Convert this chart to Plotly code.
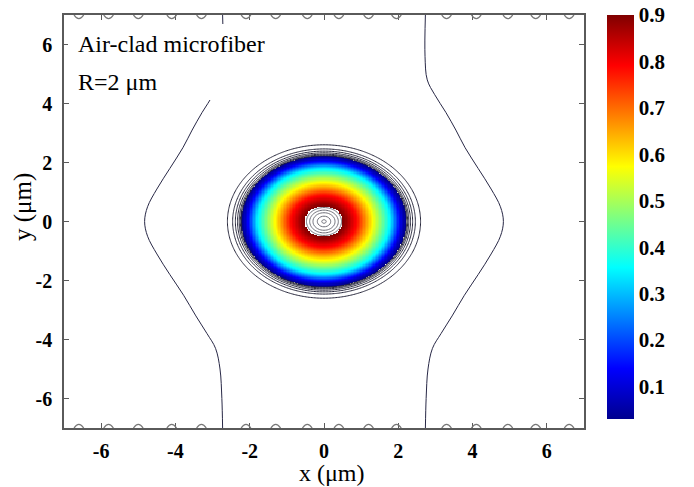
import numpy as np
import plotly.graph_objects as go

# ---- data ----
# radial intensity profile of the guided mode (normalised), radius in um
radius_um = [0.0, 0.3, 0.6, 0.9, 1.2, 1.5, 1.8, 2.0, 2.1, 2.2, 2.25, 2.3, 2.4, 2.5, 2.7, 3.0, 4.0, 7.5]
intensity = [1.0, 0.95, 0.88, 0.78, 0.63, 0.49, 0.34, 0.17, 0.09, 0.035, 0.026, 0.02, 0.013, 0.008, 0.004, 0.002, 0.0005, 0.0]

# far-field contour (right branch; left branch is its mirror), in um
outer_y = [7.0, 5.6, 4.8, 4.3, 3.7, 3.1, 2.5, 1.8, 1.1, 0.5, 0.0, -0.5, -1.1, -1.8, -2.5, -3.2, -3.8, -4.3, -5.0, -6.0, -7.0]
outer_x = [2.73, 2.72, 2.78, 2.98, 3.28, 3.55, 3.8, 4.15, 4.5, 4.75, 4.83, 4.75, 4.5, 4.15, 3.78, 3.45, 3.15, 2.92, 2.8, 2.75, 2.73]

# small contour fragments touching the top / bottom edges (x in um)
edge_x = [-6.6, -5.8, -5.0, -4.1, -3.3, -2.1, -1.3, -0.45, 0.4, 1.2, 1.95, 3.3, 4.1, 4.95, 5.7, 6.6]

cbar_ticks = [0.1, 0.2, 0.3, 0.4, 0.5, 0.6, 0.7, 0.8, 0.9]
x_ticks = [-6, -4, -2, 0, 2, 4, 6]
y_ticks = [-6, -4, -2, 0, 2, 4, 6]
zmin, zmax = 0.03, 0.9

# ---- build grid from the profile ----
g = np.linspace(-7, 7, 351)
X, Y = np.meshgrid(g, g)
R = np.sqrt(X**2 + Y**2)
Z = np.interp(R, radius_um, intensity)
Zfill = np.where((Z > zmax) | (Z < zmin), np.nan, Z)

jet = [[0.0, "rgb(0,0,143)"], [0.125, "rgb(0,0,255)"], [0.375, "rgb(0,255,255)"],
       [0.625, "rgb(255,255,0)"], [0.875, "rgb(255,0,0)"], [1.0, "rgb(128,0,0)"]]

serif = "Liberation Serif"
W, H = 694, 487
L, Rm, T, B = 64, 110, 15, 59
PW, PH = W - L - Rm, H - T - B


def px(xp):
    return (xp - L) / PW


def py(yp):
    return (H - B - yp) / PH


fig = go.Figure()
fig.add_trace(go.Heatmap(
    x=g, y=g, z=Zfill, colorscale=jet, zmin=zmin, zmax=zmax,
    hoverinfo="skip",
    colorbar=dict(
        x=px(607), xanchor="left", xpad=0,
        y=1, yanchor="top", ypad=0,
        lenmode="pixels", len=404, thickness=27,
        outlinewidth=0, tickvals=cbar_ticks,
        ticktext=["<b>%.1f</b>" % v for v in cbar_ticks], ticks="",
        tickfont=dict(family=serif, size=21, color="black"),
    ),
))
# centre contour lines (above the colour range)
fig.add_trace(go.Contour(
    x=g, y=g, z=Z, showscale=False, hoverinfo="skip",
    contours=dict(coloring="none", start=0.91, end=0.99, size=0.02),
    line=dict(color="rgb(110,110,120)", width=1),
))
# edge contour lines (below the colour range)
fig.add_trace(go.Contour(
    x=g, y=g, z=Z, showscale=False, hoverinfo="skip",
    contours=dict(coloring="none", start=0.006, end=0.03, size=0.004),
    line=dict(color="rgb(40,40,60)", width=1),
))
# far field contour branches
fig.add_trace(go.Scatter(x=outer_x, y=outer_y, mode="lines",
                         line=dict(color="rgb(40,40,70)", width=1, shape="spline"),
                         hoverinfo="skip", showlegend=False))
fig.add_trace(go.Scatter(x=[-v for v in outer_x], y=outer_y, mode="lines",
                         line=dict(color="rgb(40,40,70)", width=1, shape="spline"),
                         hoverinfo="skip", showlegend=False))
# edge fragments: small bumps on the top and bottom frame
for ex in edge_x:
    fig.add_shape(type="path", xref="x", yref="y",
                  path="M %.3f,7 Q %.3f,6.75 %.3f,7" % (ex - 0.13, ex, ex + 0.13),
                  fillcolor="rgba(0,0,0,0)",
                  line=dict(color="rgb(120,120,120)", width=1.3), layer="above")
    fig.add_shape(type="path", xref="x", yref="y",
                  path="M %.3f,-7 Q %.3f,-6.75 %.3f,-7" % (ex - 0.13, ex, ex + 0.13),
                  fillcolor="rgba(0,0,0,0)",
                  line=dict(color="rgb(120,120,120)", width=1.3), layer="above")

axis_common = dict(
    range=[-7, 7], showgrid=False, zeroline=False, automargin=False,
    ticks="inside", ticklen=5, tickcolor="rgb(90,90,90)",
    showline=True, linecolor="rgb(90,90,90)", linewidth=1.5, mirror="ticks",
    tickfont=dict(family=serif, size=20, color="black"),
)
fig.update_xaxes(**axis_common, tickvals=x_ticks, ticktext=["<b>%d</b>" % v for v in x_ticks],
                 ticklabelstandoff=4)
fig.update_yaxes(**axis_common, tickvals=y_ticks, ticktext=["<b>%d</b>" % v for v in y_ticks],
                 ticklabelstandoff=6)

# axis titles
fig.add_annotation(text="x (μm)", xref="paper", yref="paper", x=px(332), y=py(473),
                   xanchor="center", yanchor="middle", showarrow=False,
                   font=dict(family=serif, size=24, color="black"))
fig.add_annotation(text="y (μm)", xref="paper", yref="paper", x=px(23), y=py(207),
                   xanchor="center", yanchor="middle", showarrow=False, textangle=-90,
                   font=dict(family=serif, size=25, color="black"))

# label box
fig.add_shape(type="rect", xref="paper", yref="paper",
              x0=px(68), x1=px(285), y0=py(100), y1=py(24),
              fillcolor="white", line=dict(width=0), layer="above")
fig.add_annotation(text="Air-clad microfiber", xref="paper", yref="paper",
                   x=px(76), y=py(44), xanchor="left", yanchor="middle",
                   showarrow=False, font=dict(family=serif, size=24, color="black"))
fig.add_annotation(text="R=2 μm", xref="paper", yref="paper",
                   x=px(76), y=py(82), xanchor="left", yanchor="middle",
                   showarrow=False, font=dict(family=serif, size=24, color="black"))

fig.update_layout(
    width=W, height=H,
    margin=dict(l=L, r=Rm, t=T, b=B, autoexpand=False),
    paper_bgcolor="white", plot_bgcolor="white",
    showlegend=False,
)
fig.write_html("out.html", config={"displayModeBar": False},
               post_script="document.body.style.margin='0';")
